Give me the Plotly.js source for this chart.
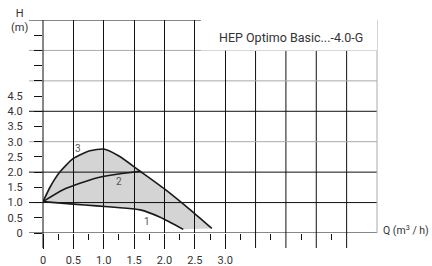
<!DOCTYPE html>
<html><head><meta charset="utf-8">
<script src="https://cdn.plot.ly/plotly-3.0.1.min.js"></script>
<style>html,body{margin:0;padding:0;background:#fff}#c{width:432px;height:266px}</style>
</head><body><div id="c"></div>
<script>
// Curve 1 (min speed)
var q1 = [0, 0.5, 0.88, 1.27, 1.6, 1.93, 2.31];
var h1 = [1.03, 0.95, 0.89, 0.83, 0.76, 0.52, 0.12];
// Curve 2
var q2 = [0, 0.34, 0.88, 1.25, 1.6];
var h2 = [1.03, 1.43, 1.81, 1.94, 2.03];
// Curve 3 (max)
var q3 = [0, 0.12, 0.28, 0.5, 0.77, 1.0, 1.25, 1.6, 2.0, 2.45, 2.78];
var h3 = [1.03, 1.52, 2.01, 2.45, 2.70, 2.76, 2.53, 2.03, 1.45, 0.72, 0.15];

var xTickVals = [0, 0.5, 1.0, 1.5, 2.0, 2.5, 3.0];
var xTickText = ['0', '0.5', '1.0', '1.5', '2.0', '2.5', '3.0'];
var xExtraGrid = [3.5, 4.0, 4.5, 5.0];
var xMinorVals = [0.25, 0.75, 1.25, 1.75, 2.25, 2.75, 3.25, 3.75, 4.25, 4.75];
var yTickVals = [0, 0.5, 1.0, 1.5, 2.0, 2.5, 3.0, 3.5, 4.0, 4.5];
var yTickText = ['0', '0.5', '1.0', '1.5', '2.0', '2.5', '3.0', '3.5', '4.0', '4.5'];
var yMinorVals = [5.0, 5.5, 6.0, 6.5];
var hLines = [0, 1, 2, 3, 4, 5, 6, 7];
var hLineColors = ['#111', '#111', '#111', '#aaa', '#111', '#aaa', '#aaa', '#111'];
var curveLabels = ['3', '2', '1'];
var labelQ = [0.58, 1.25, 1.71];
var labelH = [2.79, 1.68, 0.39];
var title = 'HEP Optimo Basic...-4.0-G';

var FONT = 'Roboto, sans-serif';
var lineStyle = {color: '#1a1a1a', width: 1.6, shape: 'spline', smoothing: 0.6};

var traces = [
  {x: q1, y: h1, mode: 'lines', line: lineStyle, hoverinfo: 'skip'},
  {x: q3, y: h3, mode: 'lines', line: lineStyle, fill: 'tonexty', fillcolor: 'rgba(0,0,0,0.17)', hoverinfo: 'skip'},
  {x: q2, y: h2, mode: 'lines', line: lineStyle, hoverinfo: 'skip'}
];

var shapes = [];
shapes.push({type: 'rect', xref: 'x', yref: 'y', x0: 2.6, x1: 5.5, y0: 6, y1: 7,
  fillcolor: '#fff', line: {width: 0}, layer: 'between'});
// unlabeled vertical grid lines (stop under the title box), extending below the axis as ticks
xExtraGrid.forEach(function (v) {
  shapes.push({type: 'line', xref: 'x', yref: 'paper', x0: v, x1: v, y0: -15 / 213, y1: 6 / 7,
    line: {color: '#111', width: 1}, layer: 'between'});
});
hLines.forEach(function (v, i) {
  shapes.push({type: 'line', xref: 'paper', yref: 'y', x0: -14 / 334, x1: 1, y0: v, y1: v,
    line: {color: hLineColors[i], width: 1}, layer: 'between'});
});
shapes.push({type: 'line', xref: 'paper', yref: 'paper', x0: 1, x1: 1, y0: 0, y1: 1,
  line: {color: '#aaa', width: 1}, layer: 'between'});
shapes.push({type: 'line', xref: 'paper', yref: 'paper', x0: 0, x1: 0, y0: -15 / 213, y1: 1,
  line: {color: '#111', width: 1}, layer: 'between'});

var annotations = [
  {text: title, xref: 'paper', yref: 'paper', x: 0.964, y: 0.9155, xanchor: 'right', yanchor: 'middle',
    showarrow: false, font: {family: FONT, size: 12.5, color: '#333'}},
  {text: 'H<br>(m)', xref: 'paper', yref: 'paper', x: (19 - 43) / 334, y: (233 - 20) / 213, xanchor: 'center', yanchor: 'middle',
    showarrow: false, font: {family: FONT, size: 11, color: '#333'}},
  {text: 'Q (m<sup>3</sup> / h)', xref: 'paper', yref: 'paper', x: (431 - 43) / 334, y: (233 - 230) / 213, xanchor: 'right', yanchor: 'middle',
    showarrow: false, font: {family: FONT, size: 10.5, color: '#333'}}
];
curveLabels.forEach(function (t, i) {
  annotations.push({text: t, x: labelQ[i], y: labelH[i], xref: 'x', yref: 'y', showarrow: false,
    font: {family: FONT, size: 10, color: '#555'}});
});

var layout = {
  width: 432, height: 266,
  margin: {l: 43, r: 55, t: 20, b: 33, pad: 0},
  paper_bgcolor: '#fff', plot_bgcolor: '#fff',
  showlegend: false,
  font: {family: FONT, size: 11, color: '#333'},
  xaxis: {range: [0, 5.5], tickmode: 'array', tickvals: xTickVals, ticktext: xTickText,
    ticks: 'outside', ticklen: 15, tickwidth: 1, tickcolor: '#111',
    showgrid: true, gridcolor: '#111', gridwidth: 1, zeroline: false, showline: false,
    ticklabelstandoff: 2,
    minor: {tickmode: 'array', tickvals: xMinorVals, ticks: 'outside', ticklen: 6, tickcolor: '#111', showgrid: false},
    tickfont: {family: FONT, size: 11, color: '#333'}, fixedrange: true},
  yaxis: {range: [0, 7], tickmode: 'array', tickvals: yTickVals, ticktext: yTickText,
    ticks: 'outside', ticklen: 8, tickwidth: 1, tickcolor: '#111',
    showgrid: false, zeroline: false, showline: false, ticklabelstandoff: 9,
    minor: {tickmode: 'array', tickvals: yMinorVals, ticks: 'outside', ticklen: 8, tickcolor: '#111', showgrid: false},
    tickfont: {family: FONT, size: 11, color: '#333'}, fixedrange: true},
  shapes: shapes,
  annotations: annotations
};

Plotly.newPlot('c', traces, layout, {displayModeBar: false, staticPlot: true});
</script>
</body></html>
